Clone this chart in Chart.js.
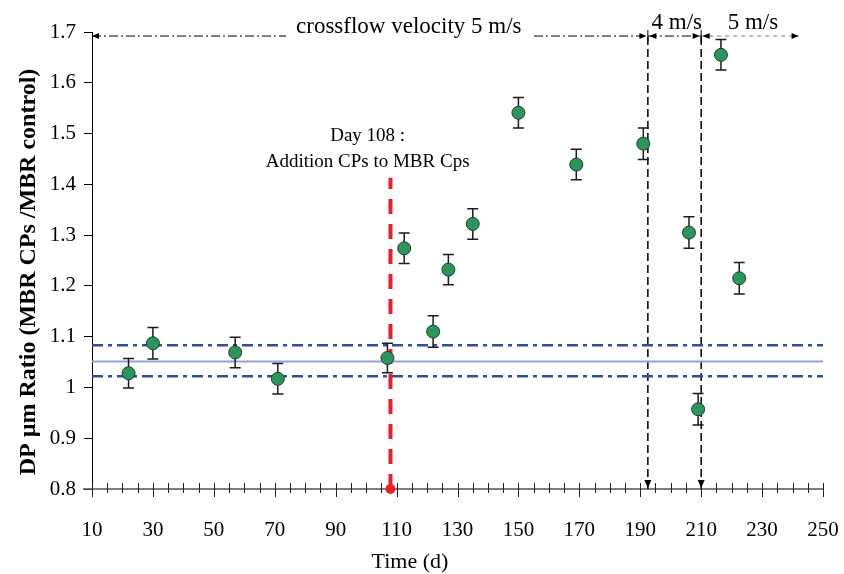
<!DOCTYPE html>
<html>
<head>
<meta charset="utf-8">
<script src="https://cdn.jsdelivr.net/npm/chart.js@4/dist/chart.umd.min.js"></script>
<style>
  html, body { margin:0; padding:0; background:#fff; }
  #wrap { width:844px; height:574px; }
</style>
</head>
<body>
<div id="wrap"><canvas id="chart" width="844" height="574"></canvas></div>
<script>
// ================= DATA =================
const days     = [22, 30, 57, 71, 107, 112.5, 122, 127, 135, 150, 169, 191, 206, 209, 216.5, 222.5];
const ratio    = [1.028, 1.087, 1.069, 1.017, 1.058, 1.274, 1.110, 1.232, 1.322, 1.541, 1.439, 1.480, 1.305, 0.957, 1.655, 1.215];
const ratioErr = [0.029, 0.031, 0.030, 0.030, 0.029, 0.030, 0.031, 0.030, 0.030, 0.030, 0.030, 0.031, 0.031, 0.031, 0.030, 0.031];

const xTicks = [10, 30, 50, 70, 90, 110, 130, 150, 170, 190, 210, 230, 250];
const yTicks = [0.8, 0.9, 1, 1.1, 1.2, 1.3, 1.4, 1.5, 1.6, 1.7];
const xMinorStep = 5;

// control band
const meanLine = 1.051;
const bandLow  = 1.022;
const bandHigh = 1.083;

// addition of CPs
const additionDay   = 108;
const additionTop   = 1.413;
const additionText  = ["Day 108 :", "Addition CPs to MBR Cps"];
const additionTextX = 100.5;

// crossflow velocity zones
const zoneBounds = [10, 192.5, 210, 242];
const zoneLabels = ["crossflow velocity 5 m/s", "4 m/s", "5 m/s"];
const zoneLabelX = [114, 202, 227];
const zoneY      = 1.692;

const FONT = "'Liberation Serif', 'Times New Roman', serif";

// ================= HELPERS =================
const hLine = yv => [{x: xTicks[0], y: yv}, {x: xTicks[xTicks.length - 1], y: yv}];
const vLine = (xv, y0, y1) => [{x: xv, y: y0}, {x: xv, y: y1}];
const seg   = (x0, x1, yv) => [{x: x0, y: yv}, {x: x1, y: yv}];

function headH(ctx, tx, ty, dir){
    ctx.beginPath();
    ctx.moveTo(tx, ty);
    ctx.lineTo(tx - dir * 7, ty - 3);
    ctx.lineTo(tx - dir * 7, ty + 3);
    ctx.closePath();
    ctx.fill();
}
function headDown(ctx, tx, ty){
    ctx.beginPath();
    ctx.moveTo(tx, ty);
    ctx.lineTo(tx - 3.5, ty - 8);
    ctx.lineTo(tx + 3.5, ty - 8);
    ctx.closePath();
    ctx.fill();
}

// ================= DECORATIONS =================
const decorations = {
    id: 'decorations',
    beforeDatasetsDraw(chart){
        const {ctx, chartArea: a, scales: {x}} = chart;
        const y0 = a.bottom;
        ctx.save();
        ctx.strokeStyle = '#555';
        ctx.lineWidth = 1.5;
        ctx.beginPath(); ctx.moveTo(a.left - 9, y0); ctx.lineTo(a.right, y0); ctx.stroke();
        ctx.strokeStyle = '#222';
        ctx.lineWidth = 1;
        for(let v = xTicks[0]; v <= xTicks[xTicks.length - 1]; v += xMinorStep){
            const px = Math.round(x.getPixelForValue(v)) + 0.5;
            const major = xTicks.includes(v);
            ctx.beginPath(); ctx.moveTo(px, y0 - 6); ctx.lineTo(px, y0 + (major ? 8 : 4)); ctx.stroke();
        }
        ctx.restore();
    },
    beforeDatasetDraw(chart, args){
        if(args.index !== 0) return;
        const {ctx, scales: {x, y}} = chart;
        ctx.save();
        ctx.strokeStyle = '#1a1a1a';
        ctx.lineWidth = 1.5;
        days.forEach((d, i) => {
            const px  = x.getPixelForValue(d);
            const top = y.getPixelForValue(ratio[i] + ratioErr[i]);
            const bot = y.getPixelForValue(ratio[i] - ratioErr[i]);
            ctx.beginPath();
            ctx.moveTo(px, top); ctx.lineTo(px, bot);
            ctx.moveTo(px - 5.5, top); ctx.lineTo(px + 5.5, top);
            ctx.moveTo(px - 5.5, bot); ctx.lineTo(px + 5.5, bot);
            ctx.stroke();
        });
        ctx.restore();
    },
    afterDatasetsDraw(chart){
        const {ctx, chartArea: a, scales: {x, y}} = chart;
        const ay = y.getPixelForValue(zoneY);
        const bx = zoneBounds.map(v => x.getPixelForValue(v));
        ctx.save();

        // arrow heads of zones
        ctx.fillStyle = '#000';
        for(let i = 0; i < zoneLabels.length; i++){
            headH(ctx, bx[i] + (i ? 1.5 : 0), ay, -1);
            headH(ctx, bx[i + 1] - (i < zoneLabels.length - 1 ? 1.5 : 0), ay, 1);
        }
        ctx.strokeStyle = '#000';
        ctx.lineWidth = 1;
        [bx[1], bx[2]].forEach(px => {
            ctx.beginPath(); ctx.moveTo(px, ay - 6); ctx.lineTo(px, ay + 6); ctx.stroke();
            headDown(ctx, px, a.bottom - 1);
        });

        // zone labels
        ctx.font = "23px " + FONT;
        ctx.textAlign = 'center';
        ctx.textBaseline = 'alphabetic';
        zoneLabels.forEach((t, i) => {
            const px = x.getPixelForValue(zoneLabelX[i]);
            if(i === 0){
                const w = ctx.measureText(t).width + 20;
                ctx.fillStyle = '#fff';
                ctx.fillRect(px - w / 2, ay - 24, w, 30);
                ctx.fillStyle = '#000';
                ctx.fillText(t, px, ay - 3);
            } else {
                ctx.fillStyle = '#000';
                ctx.fillText(t, px, ay - 7);
            }
        });

        // addition label
        const rt = y.getPixelForValue(additionTop);
        const ax = x.getPixelForValue(additionTextX);
        ctx.font = "19px " + FONT;
        ctx.fillText(additionText[0], ax, rt - 37);
        ctx.fillText(additionText[1], ax, rt - 11);

        // axis titles
        ctx.font = "22px " + FONT;
        ctx.fillText("Time (d)", 410, 568);
        ctx.save();
        ctx.translate(35, 272);
        ctx.rotate(-Math.PI / 2);
        ctx.font = "bold 24px " + FONT;
        ctx.fillText("DP µm Ratio (MBR CPs /MBR control)", 0, 0);
        ctx.restore();

        ctx.restore();
    }
};

// ================= CHART =================
const lineDs = (data, color, width, dash, order) => ({
    data, showLine: true, borderColor: color, borderWidth: width, borderDash: dash,
    pointRadius: 0, pointHoverRadius: 0, fill: false, order, clip: false
});

Chart.defaults.font.family = FONT;
Chart.defaults.color = '#000';

new Chart(document.getElementById('chart').getContext('2d'), {
    type: 'scatter',
    data: {
        datasets: [
            {
                data: days.map((d, i) => ({x: d, y: ratio[i]})),
                backgroundColor: '#2a965c', borderColor: '#1f3d2a', borderWidth: 1,
                pointRadius: 6.5, pointHoverRadius: 6.5, order: 0, clip: false
            },
            lineDs(hLine(meanLine), '#8fa3d6', 2, [], 3),
            lineDs(hLine(bandHigh), '#2e4e9e', 2.5, [11, 5, 4, 5], 3),
            lineDs(hLine(bandLow),  '#2e4e9e', 2.5, [11, 5, 4, 5], 3),
            lineDs(vLine(additionDay, yTicks[0], additionTop), '#e8202a', 4, [15, 10], 2),
            {
                data: [{x: additionDay, y: yTicks[0]}],
                backgroundColor: '#e8202a', borderColor: '#e8202a', borderWidth: 0,
                pointRadius: 5, order: 1, clip: false
            },
            lineDs(vLine(zoneBounds[1], yTicks[0], zoneY), '#000', 1.5, [8, 4], 4),
            lineDs(vLine(zoneBounds[2], yTicks[0], zoneY), '#000', 1.5, [8, 4], 4),
            lineDs(seg(zoneBounds[0], zoneBounds[1], zoneY), '#000', 1, [9, 3, 2, 3], 4),
            lineDs(seg(zoneBounds[1], zoneBounds[2], zoneY), '#000', 1, [9, 3, 2, 3], 4),
            lineDs(seg(zoneBounds[2], zoneBounds[3], zoneY), '#777', 1, [4, 4], 4)
        ]
    },
    options: {
        responsive: false,
        animation: false,
        devicePixelRatio: 1,
        layout: {padding: {top: 32, right: 21, bottom: 0, left: 0}},
        plugins: {legend: {display: false}, tooltip: {enabled: false}},
        scales: {
            x: {
                type: 'linear', min: xTicks[0], max: xTicks[xTicks.length - 1],
                afterBuildTicks: s => { s.ticks = xTicks.map(v => ({value: v})); },
                afterFit: s => { s.height = 85; s.paddingLeft = 0; s.paddingRight = 0; },
                ticks: {font: {size: 21}, color: '#000', padding: 21, maxRotation: 0, autoSkip: false},
                grid: {display: false},
                border: {display: false}
            },
            y: {
                min: yTicks[0], max: yTicks[yTicks.length - 1],
                afterBuildTicks: s => { s.ticks = yTicks.map(v => ({value: v})); },
                afterFit: s => { s.width = 92; s.paddingTop = 0; s.paddingBottom = 0; },
                ticks: {font: {size: 21}, color: '#000', padding: 8, callback: v => String(+v.toFixed(1))},
                grid: {display: true, drawOnChartArea: false, drawTicks: true, tickLength: 8, color: '#000', lineWidth: 1},
                border: {display: true, color: '#000', width: 1}
            }
        }
    },
    plugins: [decorations]
});
</script>
</body>
</html>
